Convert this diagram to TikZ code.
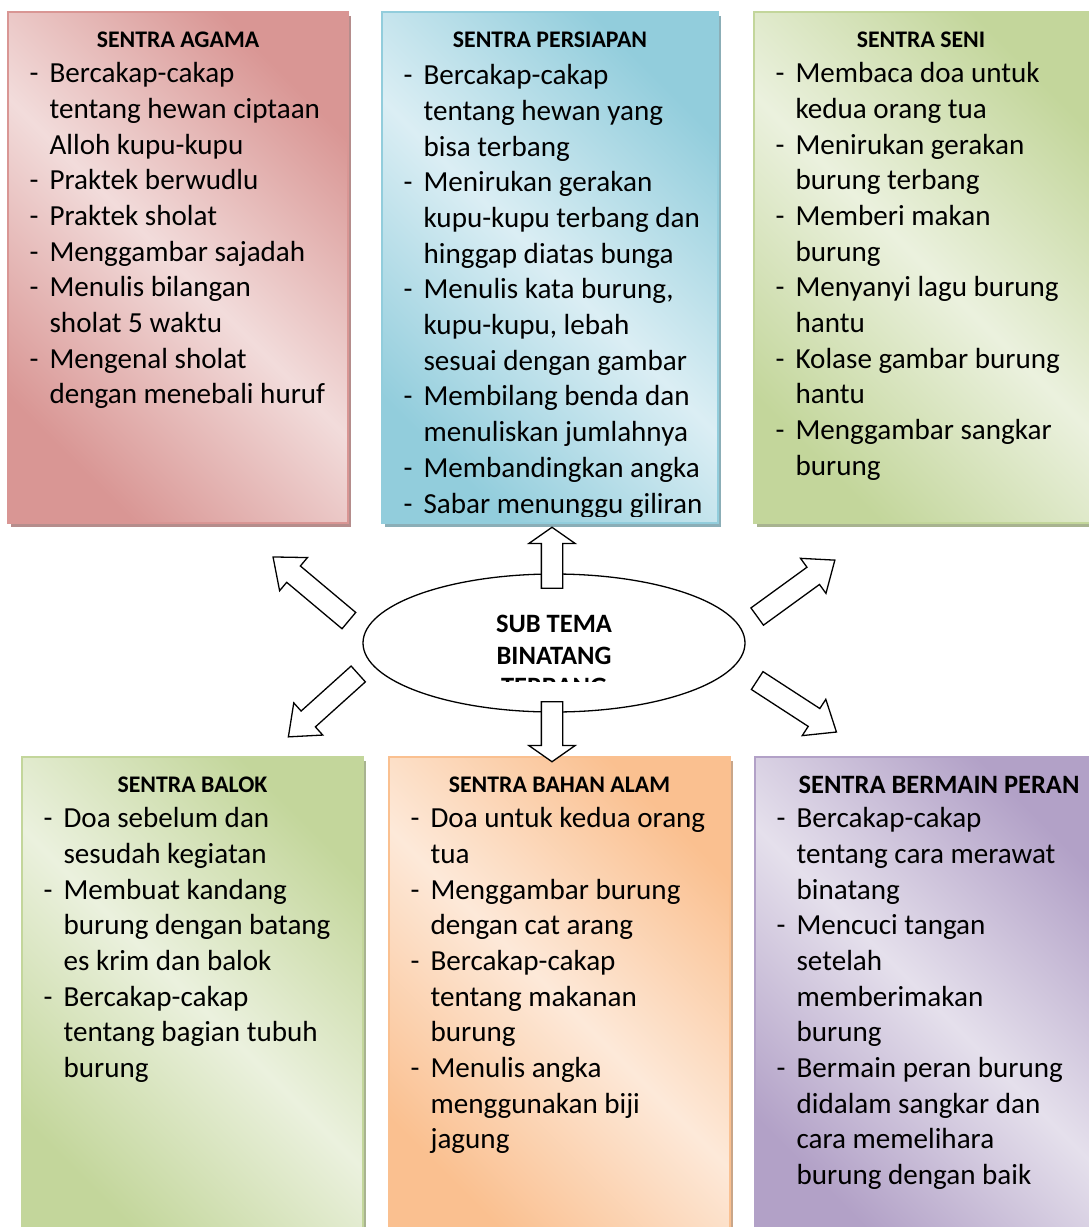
\documentclass[tikz,border=0pt]{standalone}
\usepackage{fontspec}
\setmainfont{Carlito}
\usetikzlibrary{shapes.geometric,shapes.arrows,shadows}

\definecolor{redD}{HTML}{D99694}
\definecolor{redL}{HTML}{F2DCDB}
\definecolor{blueD}{HTML}{92CDDC}
\definecolor{blueL}{HTML}{DBEEF4}
\definecolor{greenD}{HTML}{C3D69B}
\definecolor{greenL}{HTML}{EBF1DE}
\definecolor{orangeD}{HTML}{FAC090}
\definecolor{orangeL}{HTML}{FDE9D9}
\definecolor{purpleD}{HTML}{B2A1C7}
\definecolor{purpleL}{HTML}{E5E0EC}

\tikzset{
  sentra/.style={draw=#1D, line width=1.2pt, top color=#1D, bottom color=#1D, middle color=#1L,
    shading angle=-45, inner sep=0pt,
    drop shadow={shadow xshift=3pt, shadow yshift=-4pt, opacity=1, fill=#1D!60!gray}},
  judul/.style={font=\bfseries\fontsize{23.8}{28}\selectfont, inner sep=0pt, anchor=base},
  isi/.style={font=\fontsize{29.1}{35.7}\selectfont, align=left, inner sep=0pt, anchor=north west},
  panah/.style={single arrow, draw=black, fill=white, line width=1.3pt, inner sep=0pt, inner ysep=10pt},
  panahmiring/.style={panah, minimum width=42pt, single arrow head extend=11pt, single arrow tip angle=78},
  panahtegak/.style={panah, minimum width=45pt, single arrow head extend=12.5pt, single arrow tip angle=110},
}
\newcommand{\tanda}{\makebox[20pt][l]{-}}
\newcommand{\sambung}{\hspace*{20pt}}
\newcommand{\garisawal}{\rule{0pt}{28pt}}

\begin{document}
\begin{tikzpicture}[x=1pt,y=-1pt]
\useasboundingbox (0,0) rectangle (1089,1227);
\clip (0,0) rectangle (1089,1227);

\node[sentra=red, minimum width=340pt, minimum height=511pt] (agama) at (178,267.5) {};
\node[judul] (tagama) at ([yshift=-36pt]agama.north) {SENTRA AGAMA};
\node[isi] (iagama) at ([xshift=22pt,yshift=-43pt]agama.north west) {\garisawal\tanda Bercakap-cakap\\
  \sambung tentang hewan ciptaan\\
  \sambung Alloh kupu-kupu\\
  \tanda Praktek berwudlu\\
  \tanda Praktek sholat\\
  \tanda Menggambar sajadah\\
  \tanda Menulis bilangan\\
  \sambung sholat 5 waktu\\
  \tanda Mengenal sholat\\
  \sambung dengan menebali huruf};

\node[sentra=blue, minimum width=336pt, minimum height=511pt] (persiapan) at (550,267.5) {};
\node[judul] (tpersiapan) at ([yshift=-36pt]persiapan.north) {SENTRA PERSIAPAN};
\begin{scope}
\clip ([yshift=7pt]persiapan.south west) rectangle (persiapan.north east);
\node[isi] (ipersiapan) at ([xshift=22pt,yshift=-45pt]persiapan.north west) {\garisawal\tanda Bercakap-cakap\\
  \sambung tentang hewan yang\\
  \sambung bisa terbang\\
  \tanda Menirukan gerakan\\
  \sambung kupu-kupu terbang dan\\
  \sambung hinggap diatas bunga\\
  \tanda Menulis kata burung,\\
  \sambung kupu-kupu, lebah\\
  \sambung sesuai dengan gambar\\
  \tanda Membilang benda dan\\
  \sambung menuliskan jumlahnya\\
  \tanda Membandingkan angka\\
  \tanda Sabar menunggu giliran};
\end{scope}

\node[sentra=green, minimum width=346pt, minimum height=511pt] (seni) at (927,267.5) {};
\node[judul] (tseni) at ([xshift=-6pt,yshift=-36pt]seni.north) {SENTRA SENI};
\node[isi] (iseni) at ([xshift=22pt,yshift=-43pt]seni.north west) {\garisawal\tanda Membaca doa untuk\\
  \sambung kedua orang tua\\
  \tanda Menirukan gerakan\\
  \sambung burung terbang\\
  \tanda Memberi makan\\
  \sambung burung\\
  \tanda Menyanyi lagu burung\\
  \sambung hantu\\
  \tanda Kolase gambar burung\\
  \sambung hantu\\
  \tanda Menggambar sangkar\\
  \sambung burung};

\node[sentra=green, minimum width=341pt, minimum height=483pt] (balok) at (192.5,998.5) {};
\node[judul] (tbalok) at ([yshift=-36pt]balok.north) {SENTRA BALOK};
\node[isi] (ibalok) at ([xshift=22pt,yshift=-43pt]balok.north west) {\garisawal\tanda Doa sebelum dan\\
  \sambung sesudah kegiatan\\
  \tanda Membuat kandang\\
  \sambung burung dengan batang\\
  \sambung es krim dan balok\\
  \tanda Bercakap-cakap\\
  \sambung tentang bagian tubuh\\
  \sambung burung};

\node[sentra=orange, minimum width=341pt, minimum height=483pt] (bahanalam) at (559.5,998.5) {};
\node[judul] (tbahanalam) at ([yshift=-36pt]bahanalam.north) {SENTRA BAHAN ALAM};
\node[isi] (ibahanalam) at ([xshift=22pt,yshift=-43pt]bahanalam.north west) {\garisawal\tanda Doa untuk kedua orang\\
  \sambung tua\\
  \tanda Menggambar burung\\
  \sambung dengan cat arang\\
  \tanda Bercakap-cakap\\
  \sambung tentang makanan\\
  \sambung burung\\
  \tanda Menulis angka\\
  \sambung menggunakan biji\\
  \sambung jagung};

\node[sentra=purple, minimum width=345pt, minimum height=483pt] (bermainperan) at (927.5,998.5) {};
\node[judul, font=\bfseries\fontsize{26.5}{30}\selectfont] (tbermainperan) at ([xshift=11.5pt,yshift=-37pt]bermainperan.north) {SENTRA BERMAIN PERAN};
\node[isi] (ibermainperan) at ([xshift=22pt,yshift=-43pt]bermainperan.north west) {\garisawal\tanda Bercakap-cakap\\
  \sambung tentang cara merawat\\
  \sambung binatang\\
  \tanda Mencuci tangan\\
  \sambung setelah\\
  \sambung memberimakan\\
  \sambung burung\\
  \tanda Bermain peran burung\\
  \sambung didalam sangkar dan\\
  \sambung cara memelihara\\
  \sambung burung dengan baik};

\node[draw, ellipse, line width=1.3pt, fill=white, minimum width=382pt, minimum height=138pt, inner sep=0pt] (subtema) at (554,643) {};
\begin{scope}
\clip (360,560) rectangle (750,681);
\node[font=\bfseries\fontsize{26.5}{31.3}\selectfont, align=center, inner sep=0pt, anchor=north] (tsubtema) at (554,612.7) {\rule{0pt}{20pt}SUB TEMA\\BINATANG\\TERBANG};
\end{scope}

\node[panahmiring, minimum height=99pt, rotate=140] (pkiriatas) at (316,593) {};
\node[panahmiring, minimum height=94pt, rotate=222] (pkiribawah) at (328.2,701) {};
\node[panahmiring, minimum height=96pt, rotate=36] (pkananatas) at (790.7,592.2) {};
\node[panahmiring, minimum height=94.5pt, rotate=-33] (pkananbawah) at (791.3,702.7) {};
\node[panahtegak, minimum height=61pt, rotate=90] (patas) at (552,561.5) {};
\node[panahtegak, minimum height=60pt, rotate=-90] (pbawah) at (552,728) {};
\end{tikzpicture}
\end{document}
